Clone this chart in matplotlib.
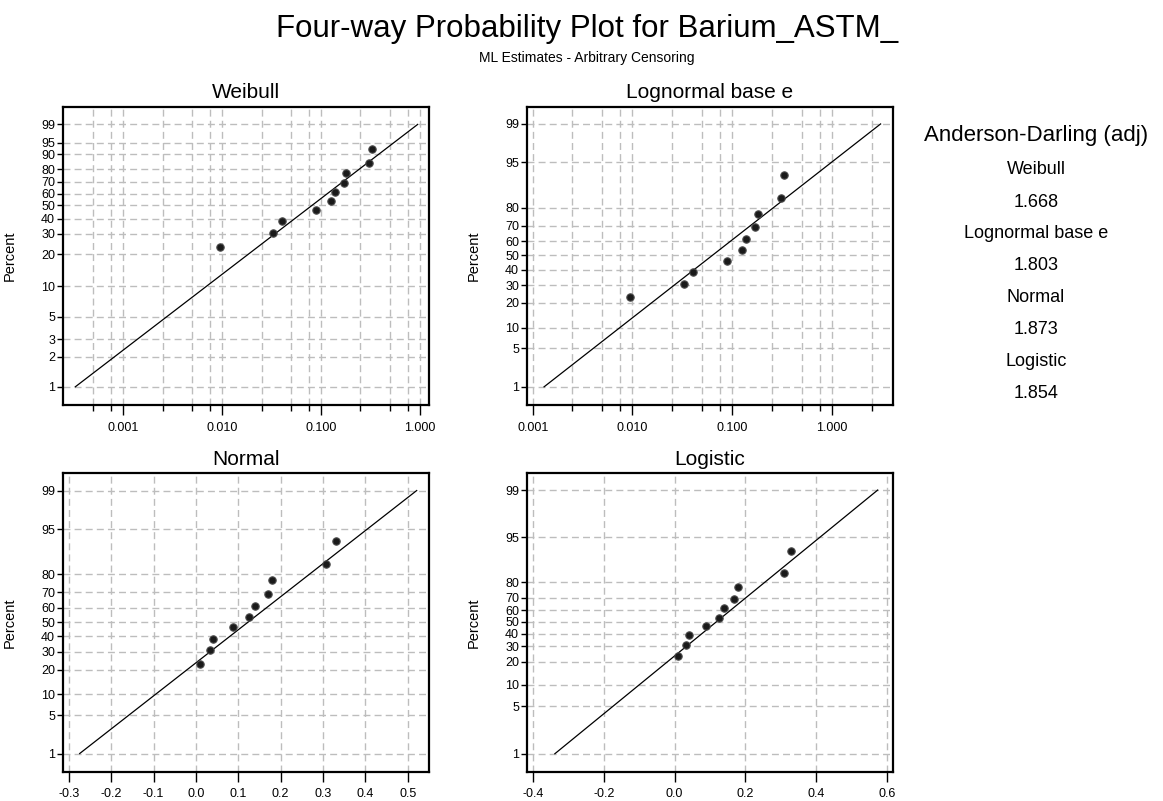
import math
import numpy as np
import matplotlib
matplotlib.use("Agg")
import matplotlib.pyplot as plt
from matplotlib.ticker import FixedLocator, NullLocator, FixedFormatter, NullFormatter

plt.rcParams['font.family'] = ['Liberation Sans', 'DejaVu Sans']

# ---------------- data ----------------
barium = [0.0095, 0.033, 0.040, 0.088, 0.125, 0.139, 0.169, 0.180, 0.308, 0.330]
percent = [23.1, 30.8, 38.5, 46.2, 53.8, 61.5, 69.2, 76.9, 84.6, 92.3]

fit_pct = [1, 99]
weibull_fit_x = [0.000328, 0.948]
lognormal_fit_x = [0.0013, 3.07]
normal_fit_x = [-0.2748, 0.5213]
logistic_fit_x = [-0.339, 0.5745]

weibull_yticks = [1, 2, 3, 5, 10, 20, 30, 40, 50, 60, 70, 80, 90, 95, 99]
other_yticks = [1, 5, 10, 20, 30, 40, 50, 60, 70, 80, 95, 99]

log_xticks = [0.001, 0.01, 0.1, 1.0]
log_xticklabels = ['0.001', '0.010', '0.100', '1.000']
log_minor_mult = [2.5, 5.0, 7.5]
normal_xticks = [-0.3, -0.2, -0.1, 0.0, 0.1, 0.2, 0.3, 0.4, 0.5]
logistic_xticks = [-0.4, -0.2, 0.0, 0.2, 0.4, 0.6]

ad_names = ['Weibull', 'Lognormal base e', 'Normal', 'Logistic']
ad_values = ['1.668', '1.803', '1.873', '1.854']

# ---------------- probability scales ----------------
_a = [-3.969683028665376e+01, 2.209460984245205e+02, -2.759285104469687e+02,
      1.383577518672690e+02, -3.066479806614716e+01, 2.506628277459239e+00]
_b = [-5.447609879822406e+01, 1.615858368580409e+02, -1.556989798598866e+02,
      6.680131188771972e+01, -1.328068155288572e+01]
_c = [-7.784894002430293e-03, -3.223964580411365e-01, -2.400758277161838e+00,
      -2.549671010243168e+00, 4.374664141464968e+00, 2.938163982698783e+00]
_d = [7.784695709041462e-03, 3.224671290700398e-01, 2.445134137142996e+00,
      3.754408661907416e+00]


def norm_ppf(p):
    p = np.asarray(p, dtype=float)
    out = np.full(p.shape, np.nan)
    plow = 0.02425
    with np.errstate(all='ignore'):
        m = (p > 0) & (p < plow)
        q = np.sqrt(-2 * np.log(p[m]))
        out[m] = ((((( _c[0]*q + _c[1])*q + _c[2])*q + _c[3])*q + _c[4])*q + _c[5]) / \
                 ((((_d[0]*q + _d[1])*q + _d[2])*q + _d[3])*q + 1)
        m = (p >= plow) & (p <= 1 - plow)
        q = p[m] - 0.5
        r = q * q
        out[m] = (((((_a[0]*r + _a[1])*r + _a[2])*r + _a[3])*r + _a[4])*r + _a[5]) * q / \
                 (((((_b[0]*r + _b[1])*r + _b[2])*r + _b[3])*r + _b[4])*r + 1)
        m = (p > 1 - plow) & (p < 1)
        q = np.sqrt(-2 * np.log(1 - p[m]))
        out[m] = -((((( _c[0]*q + _c[1])*q + _c[2])*q + _c[3])*q + _c[4])*q + _c[5]) / \
                 ((((_d[0]*q + _d[1])*q + _d[2])*q + _d[3])*q + 1)
    return out


_erf = np.vectorize(math.erf, otypes=[float])


def norm_fwd(pct):
    return norm_ppf(np.asarray(pct, dtype=float) / 100.0)


def norm_inv(z):
    z = np.asarray(z, dtype=float)
    return 100.0 * 0.5 * (1.0 + _erf(z / math.sqrt(2.0)))


def weib_fwd(pct):
    with np.errstate(all='ignore'):
        p = np.asarray(pct, dtype=float) / 100.0
        return np.log(-np.log(1.0 - p))


def weib_inv(y):
    with np.errstate(all='ignore'):
        return 100.0 * (1.0 - np.exp(-np.exp(np.asarray(y, dtype=float))))


def logit_fwd(pct):
    with np.errstate(all='ignore'):
        p = np.asarray(pct, dtype=float)
        return np.log(p / (100.0 - p))


def logit_inv(y):
    with np.errstate(all='ignore'):
        return 100.0 / (1.0 + np.exp(-np.asarray(y, dtype=float)))


# ---------------- figure ----------------
W, H = 1163, 801
fig = plt.figure(figsize=(W / 100, H / 100), dpi=100)


def px_axes(left, top, right, bottom):
    return fig.add_axes([left / W, 1 - bottom / H, (right - left) / W, (bottom - top) / H])


GRID = dict(color='#bdbdbd', linestyle=(0, (5, 3)), linewidth=1.0)


def style(ax, yticks, xlog, xticks, xticklabels=None):
    for s in ax.spines.values():
        s.set_linewidth(1.6)
        s.set_color('black')
    ax.yaxis.set_major_locator(FixedLocator(yticks))
    ax.yaxis.set_major_formatter(FixedFormatter([str(t) for t in yticks]))
    ax.yaxis.set_minor_locator(NullLocator())
    ax.xaxis.set_major_locator(FixedLocator(xticks))
    if xticklabels is None:
        xticklabels = ['%.1f' % t for t in xticks]
    ax.xaxis.set_major_formatter(FixedFormatter(xticklabels))
    if xlog:
        lo, hi = ax.get_xlim()
        minors = [dec * m for dec in [1e-4, 1e-3, 1e-2, 1e-1, 1.0]
                  for m in log_minor_mult if lo * 1.05 < dec * m < hi / 1.05]
        ax.xaxis.set_minor_locator(FixedLocator(minors))
        ax.xaxis.set_minor_formatter(NullFormatter())
        ax.grid(True, which='minor', axis='x', **GRID)
    else:
        ax.xaxis.set_minor_locator(NullLocator())
    ax.grid(True, which='major', axis='both', **GRID)
    ax.set_axisbelow(True)
    ax.tick_params(axis='y', which='major', length=4, width=1, direction='out', labelsize=9, pad=2)
    ax.tick_params(axis='x', which='major', length=7, width=1, direction='out', labelsize=9, pad=5)
    ax.tick_params(axis='x', which='minor', length=4, width=1, direction='out')
    ax.set_ylabel('Percent', fontsize=10.5)
    ax.yaxis.set_label_coords(-0.127, 0.5)


def plot_points(ax, xs, fitx):
    ax.plot(fitx, fit_pct, color='black', linewidth=0.9, zorder=3)
    ax.plot(xs, percent, linestyle='none', marker='o', markersize=5.3,
            markerfacecolor='#1a1a1a', markeredgecolor='#4a4a4a', markeredgewidth=0.8, zorder=4)


# Weibull
ax1 = px_axes(63.3, 106.7, 429, 405)
ax1.set_xscale('log')
ax1.set_yscale('function', functions=(weib_fwd, weib_inv))
plot_points(ax1, barium, weibull_fit_x)
ax1.set_xlim(0.000248, 1.233)
ax1.set_ylim(0.655, 99.905)
style(ax1, weibull_yticks, True, log_xticks, log_xticklabels)

# Lognormal
ax2 = px_axes(527.3, 106.7, 892.7, 405)
ax2.set_xscale('log')
ax2.set_yscale('function', functions=(norm_fwd, norm_inv))
plot_points(ax2, barium, lognormal_fit_x)
ax2.set_xlim(0.000883, 4.06)
ax2.set_ylim(0.405, 99.575)
style(ax2, other_yticks, True, log_xticks, log_xticklabels)

# Normal
ax3 = px_axes(63.3, 473.3, 429, 771.7)
ax3.set_yscale('function', functions=(norm_fwd, norm_inv))
plot_points(ax3, barium, normal_fit_x)
ax3.set_xlim(-0.3135, 0.5504)
ax3.set_ylim(0.405, 99.575)
style(ax3, other_yticks, False, normal_xticks)

# Logistic
ax4 = px_axes(527.3, 473.3, 892.7, 771.7)
ax4.set_yscale('function', functions=(logit_fwd, logit_inv))
plot_points(ax4, barium, logistic_fit_x)
ax4.set_xlim(-0.417, 0.617)
ax4.set_ylim(0.537, 99.44)
style(ax4, other_yticks, False, logistic_xticks)


def ftext(x, y, s, size, ha='center', va='baseline'):
    fig.text(x / W, 1 - y / H, s, fontsize=size, ha=ha, va=va, color='black')


# titles
ftext(587, 37, 'Four-way Probability Plot for Barium_ASTM_', 22.5)
ftext(587, 62, 'ML Estimates - Arbitrary Censoring', 10)
ftext((63.3 + 429) / 2, 98, 'Weibull', 15)
ftext((527.3 + 892.7) / 2, 98, 'Lognormal base e', 15)
ftext((63.3 + 429) / 2, 465, 'Normal', 15)
ftext((527.3 + 892.7) / 2, 465, 'Logistic', 15)

# Anderson-Darling panel
ftext(1036, 141, 'Anderson-Darling (adj)', 16)
y = 168
for name, val in zip(ad_names, ad_values):
    ftext(1036, y + 6.5, name, 13)
    ftext(1036, y + 32 + 6.5, val, 13)
    y += 64

fig.savefig('out.png', dpi=100)
